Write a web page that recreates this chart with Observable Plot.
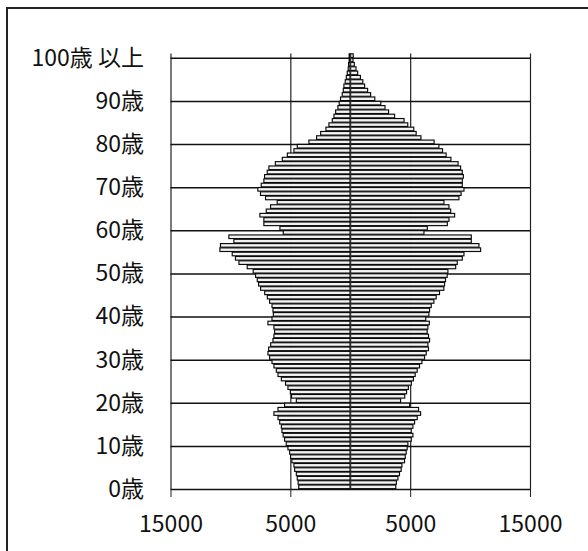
<!DOCTYPE html>
<html>
<head>
<meta charset="utf-8">
<script src="https://cdn.jsdelivr.net/npm/d3@7"></script>
<script src="https://cdn.jsdelivr.net/npm/@observablehq/plot@0.6"></script>
<style>
  html, body { margin: 0; padding: 0; background: #fff; }
  #wrap { position: relative; width: 588px; height: 551px; overflow: hidden; }
  #frame { position: absolute; left: 6px; top: 7px; width: 600px; height: 600px;
           border-top: 2px solid #222; border-left: 2px solid #222; pointer-events: none; }
</style>
</head>
<body>
<div id="wrap"><div id="chart"></div><div id="frame"></div></div>
<script>
// Ages 0..100 (100 = 100歳以上)
const ages = d3.range(0, 101);
// left side (male)
const male = [
  4300, 4350, 4420, 4500, 4640, 4700, 4870, 4980, 5060, 5200,
  5340, 5480, 5600, 5700, 5750, 5890, 6030, 6370, 6030, 5480,
  4500, 4900, 5000, 5200, 5400, 5750, 6030, 6170, 6370, 6530,
  6730, 6870, 6810, 6640, 6450, 6370, 6310, 6370, 6870, 6530,
  6420, 6450, 6530, 6730, 6920, 7140, 7480, 7650, 7760, 7900,
  8100, 8600, 9290, 9580, 9850, 10880, 10830, 9710, 10130, 5590,
  5870, 7210, 7210, 7540, 7010, 6650, 6100, 7070, 7490, 7710,
  7430, 7210, 7150, 6930, 6790, 6250, 5670, 5250, 4700, 4420,
  3450, 2810, 2470, 2030, 1780, 1500, 1360, 1220, 1030, 920,
  810, 670, 580, 530, 420, 330, 250, 170, 140, 90,
  90
];
// right side (female)
const female = [
  3800, 3850, 3980, 4110, 4250, 4310, 4530, 4590, 4670, 4750,
  4810, 5090, 5230, 5090, 5230, 5370, 5590, 5870, 5700, 4950,
  4200, 4550, 4700, 4850, 5100, 5270, 5420, 5590, 5780, 5980,
  6200, 6340, 6530, 6480, 6620, 6530, 6420, 6480, 6600, 6300,
  6560, 6620, 6760, 6980, 7170, 7450, 7810, 7870, 7950, 8090,
  8150, 8800, 8930, 9350, 9490, 10880, 10740, 10100, 10100, 6150,
  6430, 8100, 8240, 8710, 8380, 8240, 7820, 9070, 9250, 9490,
  9350, 9350, 9440, 9350, 9210, 9000, 8400, 8000, 7700, 7400,
  7000, 5900, 5500, 5300, 4800, 4490, 3700, 3200, 2900, 2550,
  2050, 1700, 1450, 1200, 1050, 850, 620, 480, 340, 230,
  250
];
const yTicks = [0, 10, 20, 30, 40, 50, 60, 70, 80, 90, 100];
const yLabels = ["0歳", "10歳", "20歳", "30歳", "40歳", "50歳", "60歳", "70歳", "80歳", "90歳", "100歳 以上"];
const xTicks = [-15000, -5000, 5000, 15000];
const xLabels = ["15000", "5000", "5000", "15000"];

const rows = ages.map((a, i) => ({age: a, male: male[i], female: female[i]}));
const font = "'Noto Sans CJK JP', 'Noto Sans', sans-serif";

const chart = Plot.plot({
  width: 588,
  height: 551,
  marginLeft: 170.5,
  marginRight: 58,
  marginTop: 53.5,
  marginBottom: 62,
  style: {fontFamily: font, fontSize: "23px", color: "#111", background: "transparent"},
  x: {domain: [-15000, 15000]},
  y: {domain: [0, 101]},
  marks: [
    Plot.ruleX(xTicks, {y1: 0, y2: 101, stroke: "#222", strokeWidth: 1.2}),
    Plot.ruleY(yTicks, {stroke: "#111", strokeWidth: 1.5}),
    Plot.rect(rows, {x1: d => -d.male, x2: 0, y1: "age", y2: d => d.age + 1,
      fill: "#f2f2f2", stroke: "#0a0a0a", strokeWidth: 1.15, insetTop: 0.35, insetBottom: 0.35}),
    Plot.rect(rows, {x1: 0, x2: "female", y1: "age", y2: d => d.age + 1,
      fill: "#f2f2f2", stroke: "#0a0a0a", strokeWidth: 1.15, insetTop: 0.35, insetBottom: 0.35}),
    Plot.ruleX([0], {y1: 0, y2: 101, stroke: "#333", strokeWidth: 1}),
    Plot.axisX(xTicks, {tickSize: 8, tickPadding: 18, stroke: "#222",
      tickFormat: d => xLabels[xTicks.indexOf(d)], label: null, fontSize: 23, fill: "#111"}),
    Plot.axisY(yTicks, {tickSize: 0, tickPadding: 27,
      tickFormat: d => yLabels[yTicks.indexOf(d)], label: null, fontSize: 23, fill: "#111"})
  ]
});
document.getElementById("chart").appendChild(chart);
</script>
</body>
</html>
